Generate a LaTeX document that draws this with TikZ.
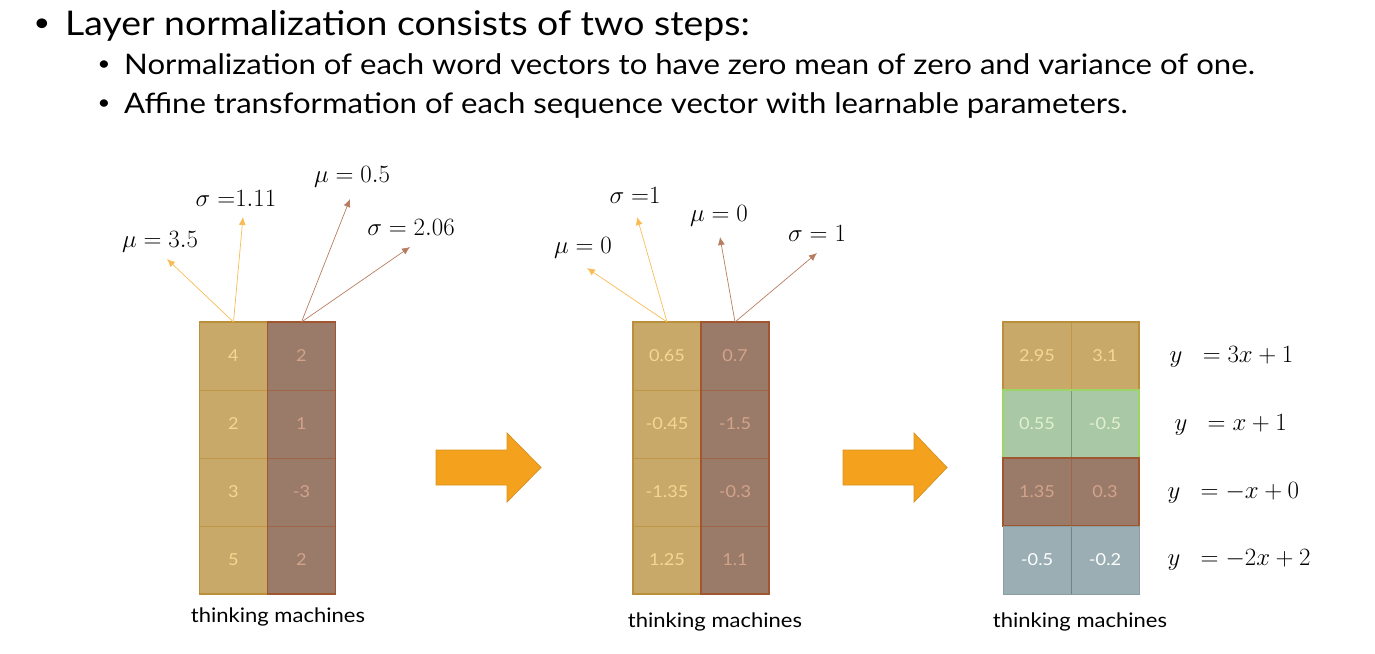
\documentclass[tikz,border=0pt]{standalone}
\usepackage[no-math]{fontspec}
\setmainfont{Lato}[FakeStretch=1.1]
\usetikzlibrary{positioning,arrows.meta}

\definecolor{tanfill}{HTML}{C9A96A}
\definecolor{tanline}{HTML}{BC8F3A}
\definecolor{tantext}{HTML}{F6D690}
\definecolor{brownfill}{HTML}{9A7B6A}
\definecolor{brownline}{HTML}{A0562E}
\definecolor{browntext}{HTML}{D2A38A}
\definecolor{greenfill}{HTML}{A9C8A5}
\definecolor{greenline}{HTML}{9CD467}
\definecolor{greentext}{HTML}{E2F0CF}
\definecolor{slatefill}{HTML}{9BAEB4}
\definecolor{slateline}{HTML}{8A9EA4}
\definecolor{blockorange}{HTML}{F4A21E}
\definecolor{blockline}{HTML}{D8931F}
\definecolor{meanline}{HTML}{F7BC55}
\definecolor{stdline}{HTML}{B87D60}

\tikzset{
  cell/.style={minimum width=68pt, minimum height=68pt, inner sep=0pt, outer sep=0pt,
    line width=0.8pt, font=\fontsize{16.5}{16.5}\selectfont},
  tancell/.style={cell, fill=tanfill, draw=tanline!70!tanfill, text=tantext},
  browncell/.style={cell, fill=brownfill, draw=brownline!60!brownfill, text=browntext},
  greencell/.style={cell, fill=greenfill, draw=greenfill!75!black, text=greentext},
  slatecell/.style={cell, fill=slatefill, draw=slatefill!75!black, text=white},
  stat/.style={font=\fontsize{24}{24}\selectfont},
  rule/.style={font=\fontsize{24}{24}\selectfont, anchor=west},
  caption/.style={font=\fontsize{20}{20}\selectfont},
  line/.style={anchor=base west, inner sep=0pt},
  blockarrow/.style={fill=blockorange, draw=blockline, line width=0.8pt, line join=miter}
}

\begin{document}
\begin{tikzpicture}[x=1pt, y=-1pt, >={Latex[length=8pt,width=7pt]}]
    \useasboundingbox (0,0) rectangle (1375,653);

    % 1. Bullet text at the top
    \node (dot0) at (42,25) {\fontsize{26}{26}\selectfont\textbullet};
    \node[line, font=\fontsize{34}{38}\selectfont] (head) at (65,35)
        {Layer normalization consists of two steps:};
    \node (dot1) at (104,66) {\fontsize{20}{20}\selectfont\textbullet};
    \node[line, font=\fontsize{28.3}{32}\selectfont] (step1) at (124,74)
        {Normalization of each word vectors to have zero mean of zero and variance of one.};
    \node (dot2) at (104,105) {\fontsize{20}{20}\selectfont\textbullet};
    \node[line, font=\fontsize{28.3}{32}\selectfont] (step2) at (124,113)
        {Affine transformation of each sequence vector with learnable parameters.};

    % 2. Input word vectors
    \node[tancell] (p1a1) at (233.5,356) {4};
    \node[tancell, below=0pt of p1a1] (p1a2) {2};
    \node[tancell, below=0pt of p1a2] (p1a3) {3};
    \node[tancell, below=0pt of p1a3] (p1a4) {5};
    \node[browncell, right=0pt of p1a1] (p1b1) {2};
    \node[browncell, right=0pt of p1a2] (p1b2) {1};
    \node[browncell, right=0pt of p1a3] (p1b3) {-3};
    \node[browncell, right=0pt of p1a4] (p1b4) {2};
    \draw[tanline, line width=1.5pt] (p1a1.north west) rectangle (p1a4.south east);
    \draw[brownline, line width=1.5pt] (p1b1.north west) rectangle (p1b4.south east);
    \node[caption] (cap1) at (278,617) {thinking machines};

    % statistics of the input
    \coordinate (m1a) at (167,259);
    \coordinate (s1a) at (243,217);
    \coordinate (m1b) at (350,199);
    \coordinate (s1b) at (410,247);
    \draw[->, meanline, line width=0.7pt] (p1a1.north) -- (m1a);
    \draw[->, meanline, line width=0.7pt] (p1a1.north) -- (s1a);
    \draw[->, stdline, line width=0.7pt] (p1b1.north) -- (m1b);
    \draw[->, stdline, line width=0.7pt] (p1b1.north) -- (s1b);
    \node[stat] (lm1a) at (160,242) {$\mu = 3.5$};
    \node[stat] (ls1a) at (236,198) {$\sigma\;{=}1.11$};
    \node[stat] (lm1b) at (352,177) {$\mu = 0.5$};
    \node[stat] (ls1b) at (411,227) {$\sigma = 2.06$};

    % 3. First block arrow
    \draw[blockarrow] (436,450) -- (507,450) -- (507,433) -- (541,467.5)
        -- (507,502) -- (507,485) -- (436,485) -- cycle;

    % 4. Normalized vectors
    \node[tancell] (p2a1) at (667,356) {0.65};
    \node[tancell, below=0pt of p2a1] (p2a2) {-0.45};
    \node[tancell, below=0pt of p2a2] (p2a3) {-1.35};
    \node[tancell, below=0pt of p2a3] (p2a4) {1.25};
    \node[browncell, right=0pt of p2a1] (p2b1) {0.7};
    \node[browncell, right=0pt of p2a2] (p2b2) {-1.5};
    \node[browncell, right=0pt of p2a3] (p2b3) {-0.3};
    \node[browncell, right=0pt of p2a4] (p2b4) {1.1};
    \draw[tanline, line width=1.5pt] (p2a1.north west) rectangle (p2a4.south east);
    \draw[brownline, line width=1.5pt] (p2b1.north west) rectangle (p2b4.south east);
    \node[caption] (cap2) at (715,622) {thinking machines};

    % statistics after normalization
    \coordinate (m2a) at (587,268);
    \coordinate (s2a) at (637,217);
    \coordinate (m2b) at (720,237);
    \coordinate (s2b) at (817,253);
    \draw[->, meanline, line width=0.7pt] (p2a1.north) -- (m2a);
    \draw[->, meanline, line width=0.7pt] (p2a1.north) -- (s2a);
    \draw[->, stdline, line width=0.7pt] (p2b1.north) -- (m2b);
    \draw[->, stdline, line width=0.7pt] (p2b1.north) -- (s2b);
    \node[stat] (lm2a) at (583,248) {$\mu = 0$};
    \node[stat] (ls2a) at (635,195) {$\sigma\;{=}1$};
    \node[stat] (lm2b) at (719,216) {$\mu = 0$};
    \node[stat] (ls2b) at (817,233) {$\sigma = 1$};

    % 5. Second block arrow
    \draw[blockarrow] (843,450) -- (914,450) -- (914,433) -- (947,467.5)
        -- (914,502) -- (914,485) -- (843,485) -- cycle;

    % 6. Affine transformed vectors, one rule per row
    \node[tancell] (p3a1) at (1037,356) {2.95};
    \node[greencell, below=0pt of p3a1] (p3a2) {0.55};
    \node[browncell, below=0pt of p3a2] (p3a3) {1.35};
    \node[slatecell, below=0pt of p3a3] (p3a4) {-0.5};
    \node[tancell, right=0pt of p3a1] (p3b1) {3.1};
    \node[greencell, right=0pt of p3a2] (p3b2) {-0.5};
    \node[browncell, right=0pt of p3a3] (p3b3) {0.3};
    \node[slatecell, right=0pt of p3a4] (p3b4) {-0.2};
    \draw[tanline, line width=1.5pt] (p3a1.north west) rectangle (p3b1.south east);
    \draw[greenline, line width=1.2pt] (p3a2.north west) rectangle (p3b2.south east);
    \draw[brownline, line width=1.5pt] (p3a3.north west) rectangle (p3b3.south east);
    \draw[slateline, line width=1pt] (p3a4.north west) rectangle (p3b4.south east);
    \node[caption] (cap3) at (1080,622) {thinking machines};

    \node[rule] (r1) at (1166,357) {$y\ \ = 3x + 1$};
    \node[rule] (r2) at (1171,425) {$y\ \ = x + 1$};
    \node[rule] (r3) at (1164,493) {$y\ \ = -x + 0$};
    \node[rule] (r4) at (1164,560) {$y\ \ = -2x + 2$};
\end{tikzpicture}
\end{document}
